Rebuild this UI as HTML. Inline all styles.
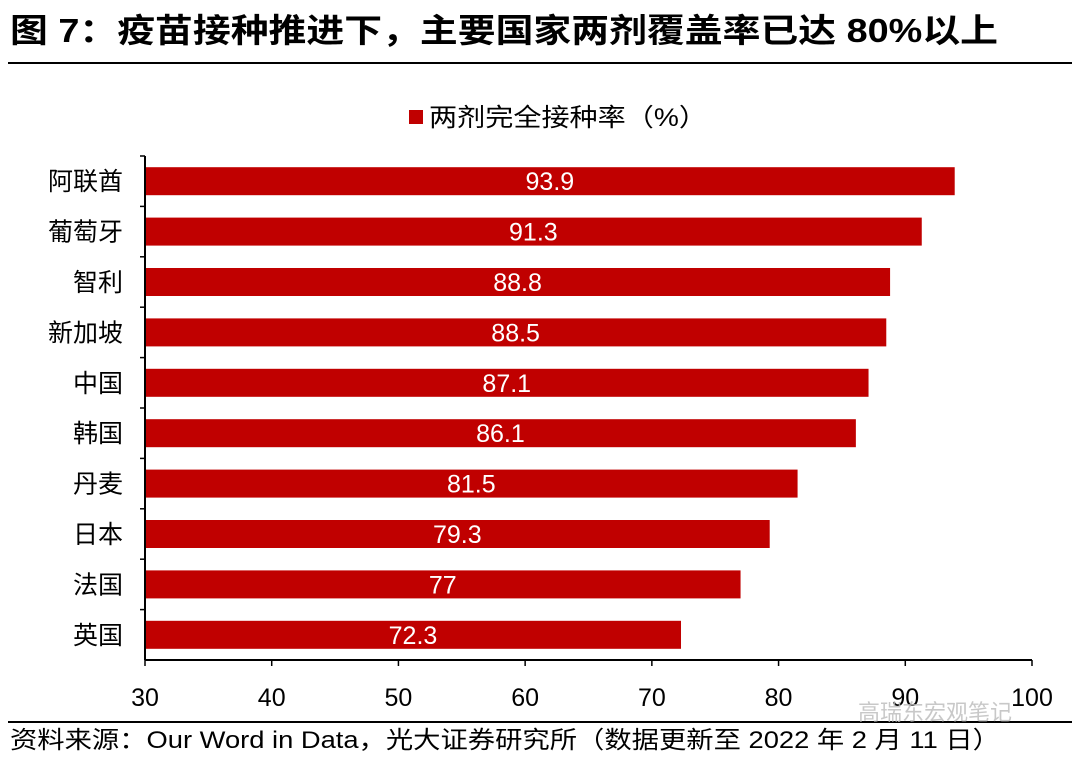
<!DOCTYPE html>
<html><head><meta charset="utf-8"><style>
body{margin:0;background:#fff;}
svg{display:block;font-family:"Liberation Sans","Noto Sans CJK SC",sans-serif;}
</style></head><body>
<svg id="c" width="1080" height="760" viewBox="0 0 1080 760">
<text x="10" y="42" font-size="33" font-weight="bold" fill="#000" textLength="988" lengthAdjust="spacingAndGlyphs">图 7：疫苗接种推进下，主要国家两剂覆盖率已达 80%以上</text>
<line x1="8" y1="63" x2="1072" y2="63" stroke="#000" stroke-width="2"/>
<g>
<rect x="409" y="110" width="14" height="14" fill="#c00000"/>
<text x="429" y="126" font-size="25" fill="#000" textLength="278" lengthAdjust="spacingAndGlyphs">两剂完全接种率（%）</text>
</g>
<g id="bars"></g>
<g id="axis"></g>
<line x1="8" y1="722" x2="1072" y2="722" stroke="#000" stroke-width="2"/>
<text x="10" y="748" font-size="24" fill="#000" textLength="990" lengthAdjust="spacingAndGlyphs">资料来源：Our Word in Data，光大证券研究所（数据更新至 2022 年 2 月 11 日）</text>
<text x="858" y="720" font-size="22" fill="#bbb" opacity="0.8">高瑞东宏观笔记</text>
</svg>
<script>
const categories=["阿联酋","葡萄牙","智利","新加坡","中国","韩国","丹麦","日本","法国","英国"];
const values=[93.9,91.3,88.8,88.5,87.1,86.1,81.5,79.3,77,72.3];
const labels=["93.9","91.3","88.8","88.5","87.1","86.1","81.5","79.3","77","72.3"];
const ticks=[30,40,50,60,70,80,90,100];
const NS="http://www.w3.org/2000/svg";
const X0=145,X1=1032,VMIN=30,VMAX=100,YTOP=156,YBOT=660;
function xs(v){return X0+(v-VMIN)/(VMAX-VMIN)*(X1-X0);}
const band=(YBOT-YTOP)/categories.length;
function yc(i){return YTOP+band*(i+0.5);}
function el(t,a,p){const e=document.createElementNS(NS,t);for(const k in a)e.setAttribute(k,a[k]);p.appendChild(e);return e;}
const g=document.getElementById('bars'),ax=document.getElementById('axis');
categories.forEach((c,i)=>{
 const y=yc(i);
 const r=el('rect',{x:X0,y:y-14,width:xs(values[i])-X0,height:28,fill:'#c00000'},g);
 
 
 const t=el('text',{x:(X0+xs(values[i]))/2,y:y+9,'font-size':25,fill:'#fff','text-anchor':'middle'},g);
 t.textContent=labels[i];
 
 
 const l=el('text',{x:123,y:y+9,'font-size':25,fill:'#000','text-anchor':'end'},g);
 l.textContent=c;
 
 
 const tk=el('line',{x1:X0-5,x2:X0,y1:YTOP+band*i,y2:YTOP+band*i,stroke:'#000','stroke-width':1.5},ax);
 
 
});
const yl=el('line',{x1:X0,x2:X0,y1:YTOP,y2:YBOT,stroke:'#000','stroke-width':2},ax);


const xl=el('line',{x1:X0,x2:X1,y1:YBOT,y2:YBOT,stroke:'#000','stroke-width':2},ax);


ticks.forEach(v=>{
 const t=el('line',{x1:xs(v),x2:xs(v),y1:YBOT,y2:YBOT+6,stroke:'#000','stroke-width':1.5},ax);
 
 
 const l=el('text',{x:xs(v),y:706,'font-size':25,fill:'#000','text-anchor':'middle'},ax);
 l.textContent=v;
 
 
});
</script>
</body></html>
